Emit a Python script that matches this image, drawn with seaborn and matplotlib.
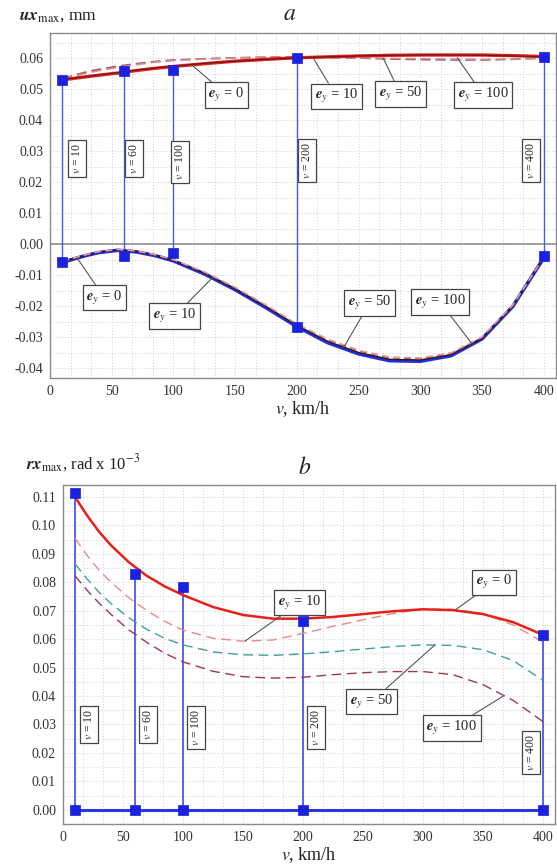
import numpy as np
import matplotlib
matplotlib.use("Agg")
import matplotlib.pyplot as plt
from matplotlib.ticker import MultipleLocator, FormatStrFormatter
import seaborn as sns

sns.set_theme(style="white")
plt.rcParams["font.family"] = ["Liberation Serif", "DejaVu Serif"]
plt.rcParams["mathtext.fontset"] = "stix"
plt.rcParams["axes.unicode_minus"] = False

# speeds (km/h) where curves are read
v = [10, 20, 30, 40, 55, 70, 85, 100, 125, 150, 175, 200, 225, 250, 275, 300, 325, 350, 375, 400]

# panel a, upper branch (ux_max, mm)
a_up_e0 = [.0530, .0535, .0540, .0545, .0552, .0560, .0567, .0573, .0582, .0590, .0596, .0601, .0604, .0607, .0609, .0610, .0610, .0610, .0608, .0605]
a_up_e10 = [.0531, .0536, .0541, .0546, .0553, .0561, .0568, .0574, .0583, .0590, .0596, .0601, .0604, .0607, .0609, .0610, .0610, .0609, .0607, .0604]
a_up_e50 = [.0533, .0542, .0552, .0560, .0570, .0579, .0587, .0592, .0597, .0600, .0603, .0604, .0603, .0601, .0599, .0598, .0597, .0596, .0597, .0600]
a_up_e100 = [.0534, .0545, .0556, .0564, .0574, .0582, .0589, .0594, .0598, .0601, .0603, .0604, .0602, .0600, .0597, .0595, .0594, .0594, .0596, .0600]

# panel a, lower branch
a_lo_e0 = [-.0059, -.0047, -.0036, -.0027, -.0020, -.0025, -.0037, -.0054, -.0096, -.0147, -.0205, -.0266, -.0318, -.0354, -.0376, -.0378, -.0360, -.0306, -.0201, -.0045]
a_lo_e10 = [-.0058, -.0046, -.0035, -.0026, -.0019, -.0024, -.0036, -.0053, -.0094, -.0145, -.0202, -.0263, -.0314, -.0350, -.0372, -.0374, -.0357, -.0304, -.0200, -.0044]
a_lo_e50 = [-.0057, -.0045, -.0034, -.0025, -.0018, -.0023, -.0035, -.0051, -.0091, -.0141, -.0198, -.0259, -.0309, -.0345, -.0367, -.0370, -.0353, -.0301, -.0198, -.0043]
a_lo_e100 = [-.0056, -.0044, -.0033, -.0024, -.0017, -.0022, -.0034, -.0050, -.0089, -.0139, -.0196, -.0257, -.0306, -.0342, -.0364, -.0367, -.0350, -.0299, -.0197, -.0043]

# panel b (rx_max, rad x 10^-3)
b_e0 = [.1100, .1035, .0978, .0930, .0870, .0822, .0785, .0755, .0713, .0685, .0672, .0672, .0678, .0688, .0698, .0705, .0702, .0688, .0660, .0615]
b_e10 = [.0955, .0895, .0843, .0800, .0745, .0700, .0662, .0632, .0603, .0593, .0597, .0620, .0645, .0668, .0690, .0705, .0705, .0690, .0650, .0590]
b_e50 = [.0865, .0812, .0765, .0725, .0675, .0634, .0602, .0580, .0555, .0545, .0543, .0548, .0556, .0565, .0574, .0580, .0578, .0563, .0525, .0455]
b_e100 = [.0823, .0772, .0727, .0687, .0632, .0588, .0550, .0520, .0487, .0468, .0463, .0466, .0475, .0482, .0486, .0486, .0475, .0440, .0385, .0310]

# test speeds and measured points
v_test = [10, 60, 100, 200, 400]
a_pts_up = [0.0528, 0.0560, 0.0562, 0.0601, 0.0602]
a_pts_lo = [-0.0058, -0.0040, -0.0028, -0.0268, -0.0040]
b_pts_up = [0.1115, 0.0830, 0.0783, 0.0663, 0.0613]
b_pts_lo = [0.0, 0.0, 0.0, 0.0, 0.0]

fig = plt.figure(figsize=(5.57, 8.66), dpi=100)
W, H = 557, 866
ax1 = fig.add_axes([50 / W, 1 - 378 / H, (556 - 50) / W, (378 - 33) / H])
ax2 = fig.add_axes([63 / W, 1 - 824 / H, (555 - 63) / W, (824 - 485) / H])

box = dict(boxstyle="square,pad=0.25", fc="white", ec="#444444", lw=0.9)
stem_col = "#4a5ae8"
mark_col = "#1a22e0"


def style_axes(ax, ylo, yhi, ymaj):
    ax.set_xlim(0, 410)
    ax.set_ylim(ylo, yhi)
    ax.xaxis.set_major_locator(MultipleLocator(50))
    ax.xaxis.set_minor_locator(MultipleLocator(50 / 3))
    ax.yaxis.set_major_locator(MultipleLocator(ymaj))
    ax.yaxis.set_minor_locator(MultipleLocator(ymaj / 2))
    ax.yaxis.set_major_formatter(FormatStrFormatter("%.2f"))
    ax.grid(which="both", ls=(0, (1, 2)), color="#cfcfcf", lw=0.7)
    ax.tick_params(which="major", direction="inout", length=6, width=0.8,
                   color="#555555", labelsize=10, labelcolor="#333333", pad=2)
    ax.tick_params(which="minor", direction="inout", length=3, width=0.6, color="#555555")
    for s in ax.spines.values():
        s.set_color("#8a8a8a")
        s.set_linewidth(1.0)
    ax.set_xlabel("$v$, km/h", fontsize=13, labelpad=1, color="#222222")
    ax.set_ylabel("")


# ---- panel a ----
ax1.axhline(0, color="#909090", lw=1.2, zorder=1)
ax1.vlines(v_test, a_pts_lo, a_pts_up, color=stem_col, lw=1.0, zorder=2)
sns.lineplot(x=v, y=a_up_e100, ax=ax1, color="#a05058", lw=1.2, linestyle=(0, (6, 3)), zorder=3)
sns.lineplot(x=v, y=a_up_e50, ax=ax1, color="#d09090", lw=1.2, linestyle=(0, (6, 3)), zorder=3)
sns.lineplot(x=v, y=a_up_e0, ax=ax1, color="#e8201a", lw=2.4, zorder=4)
sns.lineplot(x=v, y=a_up_e10, ax=ax1, color="#6a1a1a", lw=0.9, zorder=5)
sns.lineplot(x=v, y=a_lo_e0, ax=ax1, color="#2030e0", lw=2.6, zorder=3)
sns.lineplot(x=v, y=a_lo_e10, ax=ax1, color="#202020", lw=1.0, zorder=4)
sns.lineplot(x=v, y=a_lo_e50, ax=ax1, color="#d04040", lw=1.0, linestyle=(0, (5, 3)), zorder=5)
sns.lineplot(x=v, y=a_lo_e100, ax=ax1, color="#e8a0a0", lw=1.0, linestyle=(0, (5, 3)), zorder=5)
sns.scatterplot(x=v_test, y=a_pts_up, ax=ax1, marker="s", s=42, color=mark_col, edgecolor=mark_col, zorder=6)
sns.scatterplot(x=v_test, y=a_pts_lo, ax=ax1, marker="s", s=42, color=mark_col, edgecolor=mark_col, zorder=6)
style_axes(ax1, -0.0432, 0.0681, 0.01)

a_labels = [("0", (143, 0.0481), (115, 0.0578)),
            ("10", (232, 0.0477), (213, 0.0602)),
            ("50", (284, 0.0484), (270, 0.0600)),
            ("100", (351, 0.0481), (330, 0.0601)),
            ("0", (44, -0.0173), (22, -0.0045)),
            ("10", (101, -0.0232), (132, -0.0107)),
            ("50", (259, -0.0190), (238, -0.0333)),
            ("100", (316, -0.0187), (342, -0.0322))]
for txt, pos, tip in a_labels:
    ax1.annotate(r"$\boldsymbol{e}_y$ = " + txt, xy=tip, xytext=pos, fontsize=10.5,
                 ha="center", va="center", bbox=box, zorder=7,
                 arrowprops=dict(arrowstyle="-", color="#555555", lw=0.8, shrinkA=0, shrinkB=0))

a_vpos = [(22, 0.0275), (68, 0.0275), (105.5, 0.0265), (208, 0.0270), (389.5, 0.0270)]
for vv, (px, py) in zip(v_test, a_vpos):
    ax1.text(px, py, "$v$ = %d" % vv, rotation=90, fontsize=8.5, ha="center", va="center",
             bbox=box, zorder=7)

# ---- panel b ----
ax2.vlines(v_test, b_pts_lo, b_pts_up, color=stem_col, lw=1.3, zorder=2)
sns.lineplot(x=[10, 400], y=[0, 0], ax=ax2, color="#2a36e0", lw=2.2, zorder=2)
sns.lineplot(x=v, y=b_e100, ax=ax2, color="#a03848", lw=1.0, linestyle=(0, (7, 4)), zorder=3)
sns.lineplot(x=v, y=b_e50, ax=ax2, color="#40a0a0", lw=1.0, linestyle=(0, (7, 4)), zorder=3)
sns.lineplot(x=v, y=b_e10, ax=ax2, color="#e88a8a", lw=1.0, linestyle=(0, (7, 4)), zorder=3)
sns.lineplot(x=v, y=b_e0, ax=ax2, color="#e8201a", lw=1.8, zorder=4)
sns.scatterplot(x=v_test, y=b_pts_up, ax=ax2, marker="s", s=42, color=mark_col, edgecolor=mark_col, zorder=6)
sns.scatterplot(x=v_test, y=b_pts_lo, ax=ax2, marker="s", s=42, color=mark_col, edgecolor=mark_col, zorder=6)
style_axes(ax2, -0.005, 0.1142, 0.01)

b_labels = [("0", (359, 0.0800), (327, 0.0703)),
            ("10", (197, 0.0728), (152, 0.0594)),
            ("50", (257, 0.0380), (310, 0.0580)),
            ("100", (324, 0.0288), (367, 0.0400))]
for txt, pos, tip in b_labels:
    ax2.annotate(r"$\boldsymbol{e}_y$ = " + txt, xy=tip, xytext=pos, fontsize=10.5,
                 ha="center", va="center", bbox=box, zorder=7,
                 arrowprops=dict(arrowstyle="-", color="#555555", lw=0.8, shrinkA=0, shrinkB=0))

b_vpos = [(22, 0.0300), (71, 0.0300), (111, 0.0290), (211, 0.0290), (390, 0.0200)]
for vv, (px, py) in zip(v_test, b_vpos):
    ax2.text(px, py, "$v$ = %d" % vv, rotation=90, fontsize=8.5, ha="center", va="center",
             bbox=box, zorder=7)

# axis titles above each panel
fig.text(19 / W, 1 - 16 / H, r"$\boldsymbol{ux}_{\mathrm{max}}$, mm", fontsize=12.5, va="center", color="#222222")
fig.text(290 / W, 1 - 14 / H, "$a$", fontsize=17, ha="center", va="center", color="#222222")
fig.text(26 / W, 1 - 463 / H, r"$\boldsymbol{rx}_{\mathrm{max}}$, rad x 10$^{-3}$", fontsize=12, va="center", color="#222222")
fig.text(305 / W, 1 - 468 / H, "$b$", fontsize=17, ha="center", va="center", color="#222222")

fig.savefig("out.png", dpi=100)
